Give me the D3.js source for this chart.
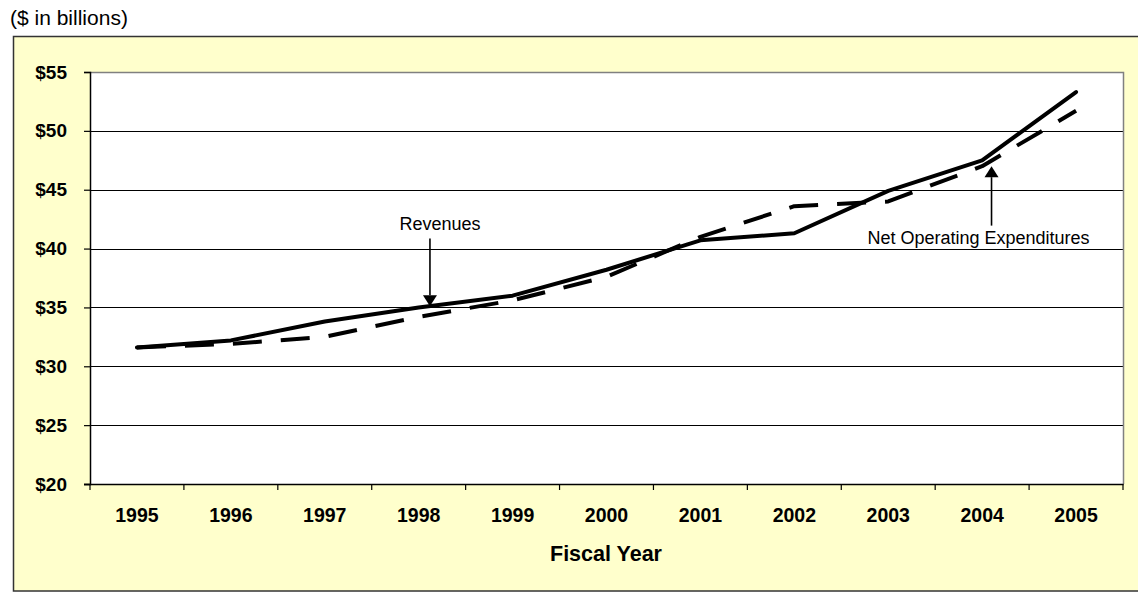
<!DOCTYPE html>
<html>
<head>
<meta charset="utf-8">
<script src="https://cdn.jsdelivr.net/npm/d3@7"></script>
<style>
  html, body { margin: 0; padding: 0; background: #ffffff; }
  svg { display: block; font-family: "Liberation Sans", Arial, sans-serif; }
</style>
</head>
<body>
<svg id="chart" width="1138" height="592"></svg>
<script>
// Fiscal years and the two series ($ in billions)
const years = [1995, 1996, 1997, 1998, 1999, 2000, 2001, 2002, 2003, 2004, 2005];
const revenues = [31.6, 32.2, 33.8, 35.0, 36.0, 38.2, 40.7, 41.3, 44.9, 47.5, 53.3];
const expenditures = [31.6, 31.9, 32.5, 34.2, 35.6, 37.6, 41.0, 43.6, 44.0, 47.0, 51.7];
const yTicks = [20, 25, 30, 35, 40, 45, 50, 55];

// Callouts: arrow sits at a fraction across a year's band, from tail value to tip value
const callouts = [
  { label: "Revenues", year: 1998, frac: 0.62, tip: 35.1, tail: 40.85, labelDx: 10, labelDy: -9 },
  { label: "Net Operating Expenditures", year: 2004, frac: 0.6, tip: 47.0, tail: 41.95, labelDx: -13, labelDy: 18 }
];

const svg = d3.select("#chart");
const W = 1138, H = 592;
const plot = { left: 90, top: 72, right: 1123, bottom: 484 };

// Chart area frame (pale yellow)
svg.append("rect")
  .attr("x", 13.5).attr("y", 36.5)
  .attr("width", W + 20).attr("height", H - 37.5)
  .attr("fill", "#FFFFCC")
  .attr("stroke", "#333333")
  .attr("stroke-width", 1.5);

// Unit note
svg.append("text")
  .attr("x", 10).attr("y", 25)
  .attr("font-size", 21)
  .attr("fill", "#000")
  .text("($ in billions)");

const x = d3.scaleBand().domain(years).range([plot.left, plot.right]).padding(0);
const y = d3.scaleLinear().domain([20, 55]).range([plot.bottom, plot.top]);
const cx = d => x(d) + x.bandwidth() / 2;

// Plot area
svg.append("rect")
  .attr("x", plot.left).attr("y", plot.top)
  .attr("width", plot.right - plot.left).attr("height", plot.bottom - plot.top)
  .attr("fill", "#ffffff");

// Horizontal gridlines
svg.append("g")
  .selectAll("line")
  .data(yTicks.filter(v => v > 20 && v < 55))
  .join("line")
  .attr("x1", plot.left).attr("x2", plot.right)
  .attr("y1", d => Math.round(y(d)) + 0.5).attr("y2", d => Math.round(y(d)) + 0.5)
  .attr("stroke", "#000").attr("stroke-width", 1);

// Plot border top / right
svg.append("path")
  .attr("d", `M${plot.left},${plot.top + 0.5}H${plot.right + 0.5}V${plot.bottom}`)
  .attr("fill", "none").attr("stroke", "#808080").attr("stroke-width", 1.5);

// Y axis
const yAxis = svg.append("g")
  .attr("transform", `translate(${plot.left},0)`)
  .call(d3.axisLeft(y).tickValues(yTicks).tickSize(6).tickPadding(17)
    .tickFormat(d => "$" + d));
yAxis.select(".domain").attr("stroke", "#000").attr("stroke-width", 1.5);
yAxis.selectAll(".tick line").attr("stroke", "#000").attr("stroke-width", 1.2);
yAxis.selectAll(".tick text")
  .attr("font-family", "Liberation Sans, Arial, sans-serif")
  .attr("font-size", 19).attr("font-weight", "bold").attr("fill", "#000");

// X axis: labels at band centres, tick marks at band edges
const xAxis = svg.append("g")
  .attr("transform", `translate(0,${plot.bottom})`)
  .call(d3.axisBottom(x).tickSize(0).tickPadding(24.5));
xAxis.select(".domain").remove();
xAxis.selectAll(".tick text")
  .attr("font-family", "Liberation Sans, Arial, sans-serif")
  .attr("font-size", 19.5).attr("font-weight", "bold").attr("fill", "#000");

const edges = years.map(d => x(d)).concat([x(years[years.length - 1]) + x.bandwidth()]);
svg.append("g")
  .selectAll("line")
  .data(edges)
  .join("line")
  .attr("x1", d => d).attr("x2", d => d)
  .attr("y1", plot.bottom).attr("y2", plot.bottom + 6)
  .attr("stroke", "#000").attr("stroke-width", 1.2);
svg.append("line")
  .attr("x1", plot.left - 6).attr("x2", plot.right + 0.5)
  .attr("y1", plot.bottom + 0.5).attr("y2", plot.bottom + 0.5)
  .attr("stroke", "#000").attr("stroke-width", 1.5);

// Axis title
svg.append("text")
  .attr("x", 606).attr("y", 561)
  .attr("text-anchor", "middle")
  .attr("font-size", 21.5).attr("font-weight", "bold")
  .attr("fill", "#000")
  .text("Fiscal Year");

// Series lines
const line = d3.line().x((d, i) => cx(years[i])).y(d => y(d));

svg.append("path")
  .datum(expenditures)
  .attr("d", line)
  .attr("fill", "none")
  .attr("stroke", "#000")
  .attr("stroke-width", 4)
  .attr("stroke-dasharray", "29,19")
  .attr("stroke-linejoin", "round");

svg.append("path")
  .datum(revenues)
  .attr("d", line)
  .attr("fill", "none")
  .attr("stroke", "#000")
  .attr("stroke-width", 4)
  .attr("stroke-linejoin", "round")
  .attr("stroke-linecap", "round");

// Callout arrows and labels
const cg = svg.append("g");
callouts.forEach(c => {
  const ax = x(c.year) + x.bandwidth() * c.frac;
  const yTip = y(c.tip), yTail = y(c.tail);
  const dir = yTip > yTail ? 1 : -1;
  const headLen = 11, headHalf = 7;
  cg.append("line")
    .attr("x1", ax).attr("x2", ax)
    .attr("y1", yTail).attr("y2", yTip - dir * headLen)
    .attr("stroke", "#000").attr("stroke-width", 1.6);
  cg.append("path")
    .attr("d", `M${ax},${yTip}L${ax - headHalf},${yTip - dir * headLen}L${ax + headHalf},${yTip - dir * headLen}Z`)
    .attr("fill", "#000");
  cg.append("text")
    .attr("x", ax + c.labelDx)
    .attr("y", yTail + c.labelDy)
    .attr("text-anchor", "middle")
    .attr("font-size", 18)
    .attr("fill", "#000")
    .text(c.label);
});
</script>
</body>
</html>
